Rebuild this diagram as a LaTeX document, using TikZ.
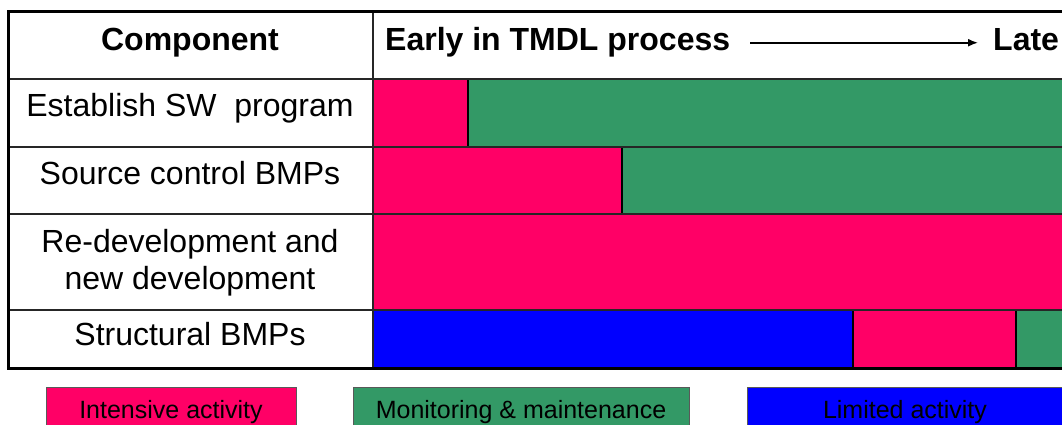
\documentclass[tikz,border=0pt]{standalone}
\usepackage{fontspec}
\setmainfont{Liberation Sans}
\usetikzlibrary{arrows.meta}
\definecolor{intense}{HTML}{FF0066}
\definecolor{monitor}{HTML}{339966}
\definecolor{limited}{HTML}{0000FF}
\begin{document}
\begin{tikzpicture}[x=1pt,y=-1pt,
  bar/.style={draw=black,line width=1.3pt},
  grid/.style={draw=black!85,line width=2pt},
  frame/.style={draw=black,line width=3pt},
  cell/.style={font=\fontsize{32}{38}\selectfont, inner sep=0pt, anchor=base},
  head/.style={font=\fontsize{32}{38}\selectfont\bfseries, inner sep=0pt},
  legbox/.style={draw=black!65,line width=1pt},
  legtext/.style={font=\fontsize{25}{30}\selectfont, inner sep=0pt, anchor=base}]
\clip (0,0) rectangle (1062,425);
\fill[white] (0,0) rectangle (1062,425);
% bars
\path[bar,fill=intense] (373,79) rectangle (468,147);
\path[bar,fill=monitor] (468,79) rectangle (1080,147);
\path[bar,fill=intense] (373,147) rectangle (622,214);
\path[bar,fill=monitor] (622,147) rectangle (1080,214);
\path[bar,fill=intense] (373,214) rectangle (1080,310);
\path[bar,fill=limited] (373,310) rectangle (853,368);
\path[bar,fill=intense] (853,310) rectangle (1016,368);
\path[bar,fill=monitor] (1016,310) rectangle (1080,368);
% grid
\draw[grid] (8,79) -- (1080,79);
\draw[grid] (8,147) -- (1080,147);
\draw[grid] (8,214) -- (1080,214);
\draw[grid] (8,310) -- (1080,310);
\draw[grid] (373,12) -- (373,368);
\draw[frame] (1080,12) -- (8,12) -- (8,368) -- (1080,368);
% header
\node[head,anchor=base] (comp) at (190,51) {Component};
\node[head,anchor=base west] (early) at (385,51) {Early in TMDL process};
\node[head,anchor=base west] (late) at (993,51) {Late};
\draw[line width=1.6pt,-{Latex[length=10pt,width=8pt]},shorten <=20pt,shorten >=15pt]
  (early.east) -- (early.east -| late.west);
% rows
\node[cell] (r1) at (190,117) {Establish SW\ \ program};
\node[cell] (r2) at (190,184) {Source control BMPs};
\node[cell] (r3a) at (190,252) {Re-development and};
\node[cell] (r3b) at (190,289) {new development};
\node[cell] (r4) at (190,345) {Structural BMPs};
% legend
\path[legbox,fill=intense] (46,387) rectangle (296,440);
\path[legbox,fill=monitor] (353,387) rectangle (689,440);
\path[legbox,fill=limited] (747,387) rectangle (1080,440);
\node[legtext] (l1) at (171,418) {Intensive activity};
\node[legtext] (l2) at (521,418) {Monitoring \& maintenance};
\node[legtext] (l3) at (905,418) {Limited activity};
\end{tikzpicture}
\end{document}
